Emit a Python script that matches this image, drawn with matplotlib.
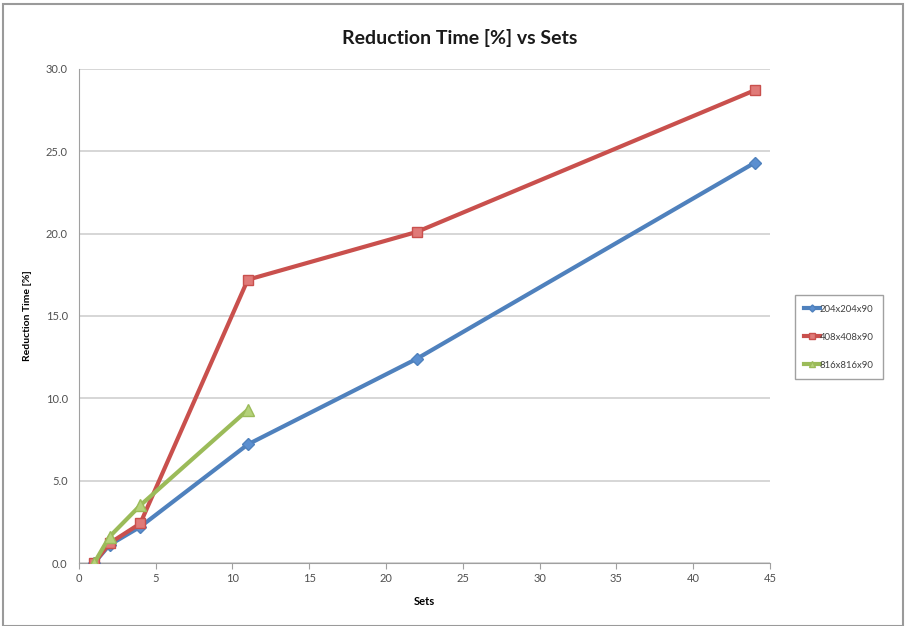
import matplotlib.pyplot as plt
from matplotlib.patches import Rectangle
from matplotlib.ticker import FormatStrFormatter, MultipleLocator

plt.rcParams['font.family'] = ['Lato', 'DejaVu Sans']

sets_204 = [1, 2, 4, 11, 22, 44]
time_204 = [0.0, 1.1, 2.2, 7.2, 12.4, 24.3]
sets_408 = [1, 2, 4, 11, 22, 44]
time_408 = [0.0, 1.2, 2.4, 17.2, 20.1, 28.7]
sets_816 = [1, 2, 4, 11]
time_816 = [0.0, 1.6, 3.5, 9.3]
labels = ['204x204x90', '408x408x90', '816x816x90']

fig = plt.figure(figsize=(9.06, 6.26), dpi=100)
fig.patches.append(Rectangle((0.003, 0.0), 0.994, 0.993, transform=fig.transFigure,
                             fill=False, edgecolor='#9a9a9a', linewidth=1.5))
ax = fig.add_axes([0.087, 0.1006, 0.763, 0.7894])

ax.plot(sets_204, time_204, color='#4f81bd', lw=3, marker='D', ms=6,
        mfc='#5b8fd0', mec='#4f81bd', label=labels[0], zorder=3)
ax.plot(sets_408, time_408, color='#c9504d', lw=3, marker='s', ms=7.5,
        mfc='#e07a78', mec='#c9504d', label=labels[1], zorder=3)
ax.plot(sets_816, time_816, color='#9bbb59', lw=3, marker='^', ms=8,
        mfc='#b5d27a', mec='#9bbb59', label=labels[2], zorder=4)

ax.set_xlim(0, 45)
ax.set_ylim(0, 30)
ax.xaxis.set_major_locator(MultipleLocator(5))
ax.yaxis.set_major_locator(MultipleLocator(5))
ax.yaxis.set_major_formatter(FormatStrFormatter('%.1f'))
ax.grid(axis='y', color='#d0d0d0', lw=1.2)
ax.set_axisbelow(True)
for s in ['top', 'right']:
    ax.spines[s].set_visible(False)
for s in ['left', 'bottom']:
    ax.spines[s].set_color('#a0a0a0')
ax.tick_params(colors='#a0a0a0', labelcolor='#505050', labelsize=8, length=4)
ax.tick_params(axis='y', length=0, pad=8)

ax.set_xlabel('Sets', fontsize=8, fontweight='bold', labelpad=8)
ax.set_ylabel('Reduction Time [%]', fontsize=7.5, fontweight='bold', labelpad=10)
fig.text(0.507, 0.94, 'Reduction Time [%] vs Sets', ha='center', va='center',
         fontsize=14, fontweight='bold', color='#1a1a1a')

leg = ax.legend(loc='center left', bbox_to_anchor=(1.036, 0.457), fontsize=6.8,
                frameon=True, fancybox=False, edgecolor='#8a8a8a',
                handlelength=1.6, handletextpad=0.0, borderpad=1.0,
                borderaxespad=0.0, labelspacing=2.0, markerscale=0.6)
leg.get_frame().set_linewidth(1.0)
for t in leg.get_texts():
    t.set_color('#404040')

fig.savefig('out.png', dpi=100)
